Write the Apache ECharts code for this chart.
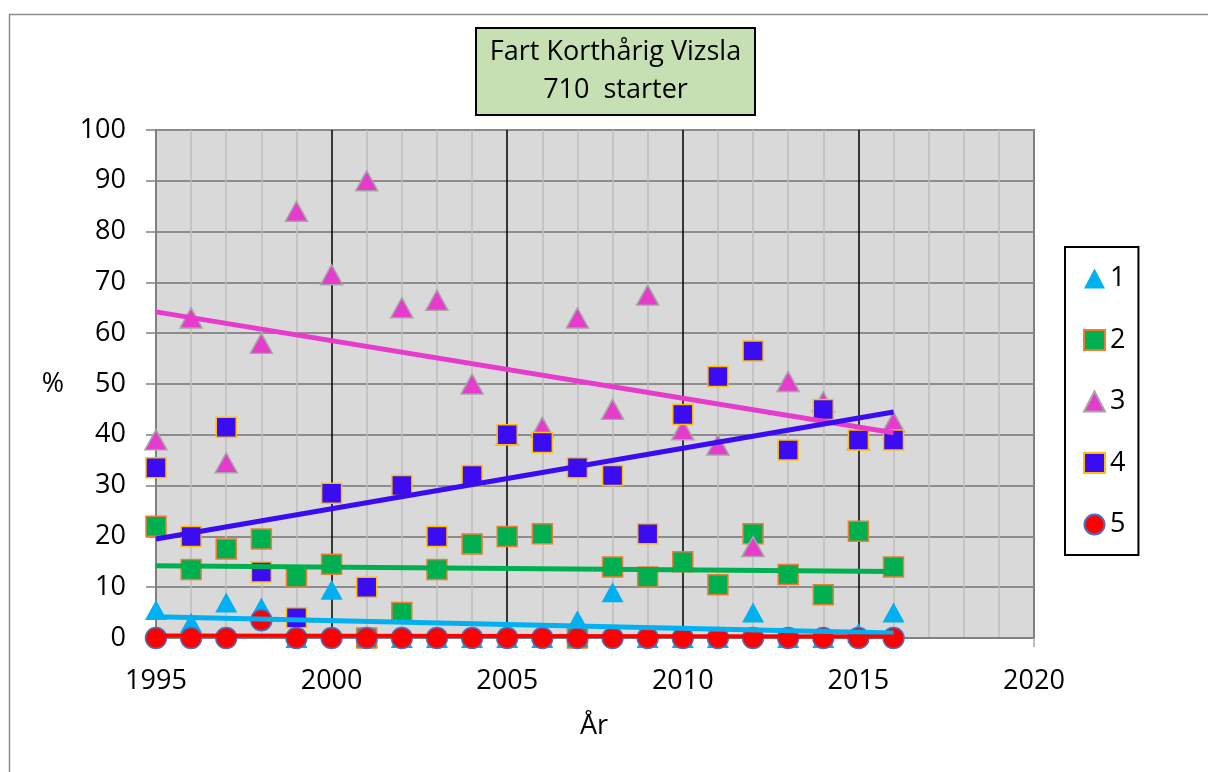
<!DOCTYPE html>
<html>
<head>
<meta charset="utf-8">
<script src="https://cdn.jsdelivr.net/npm/echarts@6/dist/echarts.min.js"></script>
<style>
    html, body { margin: 0; padding: 0; background: #fff; }
    #main { width: 1208px; height: 772px; }
</style>
</head>
<body>
<div id="main"></div>
<script>
    // år 1995 - 2016
    var years = [1995, 1996, 1997, 1998, 1999, 2000, 2001, 2002, 2003, 2004, 2005,
                 2006, 2007, 2008, 2009, 2010, 2011, 2012, 2013, 2014, 2015, 2016];

    // procent per premiegrad
    var pr1 = [5.5, 3, 7, 6, 0, 9.5, 0, 0, 0, 0, 0, 0, 3.5, 9, 0, 0, 0, 5, 0, 0, 1, 5];
    var pr2 = [22, 13.5, 17.5, 19.5, 12, 14.5, 0, 5, 13.5, 18.5, 20, 20.5, 0, 14, 12, 15, 10.5, 20.5, 12.5, 8.5, 21, 14];
    var pr3 = [39, 63, 34.5, 58, 84, 71.5, 90, 65, 66.5, 50, 40, 41.5, 63, 45, 67.5, 41, 38, 18, 50.5, 46.5, 39, 42.5];
    var pr4 = [33.5, 20, 41.5, 13, 4, 28.5, 10, 30, 20, 32, 40, 38.5, 33.5, 32, 20.5, 44, 51.5, 56.5, 37, 45, 39, 39];
    var pr5 = [0, 0, 0, 3.5, 0, 0, 0, 0, 0, 0, 0, 0, 0, 0, 0, 0, 0, 0, 0, 0, 0, 0];

    // trendlinjer: värde vid 1995 och 2016
    var trendYears = [1995, 2016];
    var trend1 = [4.2, 1.0];
    var trend2 = [14.2, 13.1];
    var trend3 = [64.2, 40.4];
    var trend4 = [19.5, 44.5];
    var trend5 = [0.5, 0.3];

    var names = ['1', '2', '3', '4', '5'];
    var xTicks = [1995, 2000, 2005, 2010, 2015, 2020];

    var font = 'Open Sans';

    function pairs(xs, ys) {
        var out = [];
        for (var i = 0; i < xs.length; i++) {
            out.push([xs[i], ys[i]]);
        }
        return out;
    }

    function scatter(name, data, symbol, size, color, border) {
        return {
            name: name,
            type: 'scatter',
            data: pairs(years, data),
            symbol: symbol,
            symbolSize: size,
            clip: false,
            itemStyle: {
                color: color,
                borderColor: border,
                borderWidth: border ? 1.5 : 0,
                opacity: 1
            },
            emphasis: { disabled: true }
        };
    }

    function trend(name, data, color, width) {
        return {
            name: name,
            type: 'line',
            data: pairs(trendYears, data),
            symbol: 'none',
            lineStyle: { color: color, width: width },
            emphasis: { disabled: true }
        };
    }

    var myChart = echarts.init(document.getElementById('main'));
    var option = {
        animation: false,
        backgroundColor: '#fff',
        textStyle: { fontFamily: font },
        grid: {
            left: 156,
            right: 174,
            top: 130,
            bottom: 134,
            show: true,
            backgroundColor: '#D9D9D9',
            borderColor: '#808080',
            borderWidth: 2
        },
        legend: {
            data: names,
            orient: 'vertical',
            left: 1065,
            top: 247,
            padding: [18, 13, 17, 18],
            itemGap: 34.5,
            itemWidth: 21,
            itemHeight: 20,
            backgroundColor: '#fff',
            borderColor: '#000',
            borderWidth: 2,
            selectedMode: false,
            textStyle: { fontFamily: font, fontSize: 27, color: '#000' }
        },
        xAxis: {
            type: 'value',
            min: 1995,
            max: 2020,
            interval: 5,
            axisLine: { show: true, onZero: false, lineStyle: { color: '#808080', width: 2 } },
            axisTick: { show: true, length: 9, lineStyle: { color: '#A6A6A6', width: 1.5 } },
            axisLabel: {
                margin: 30,
                fontFamily: font,
                fontSize: 27,
                color: '#000',
                formatter: function (v) { return xTicks.indexOf(v) > -1 ? String(v) : ''; }
            },
            splitLine: { show: true, showMinLine: false, showMaxLine: false, lineStyle: { color: '#000', width: 1.5 } },
            minorTick: { show: false, splitNumber: 5 },
            minorSplitLine: { show: true, lineStyle: { color: '#BDBDBD', width: 1.5 } }
        },
        yAxis: {
            type: 'value',
            min: 0,
            max: 100,
            interval: 10,
            axisLine: { show: true, lineStyle: { color: '#808080', width: 2 } },
            axisTick: { show: true, length: 10, lineStyle: { color: '#808080', width: 1.5 } },
            axisLabel: { margin: 30, fontFamily: font, fontSize: 27, color: '#000' },
            splitLine: { show: true, lineStyle: { color: '#8C8C8C', width: 2 } }
        },
        graphic: [
            {
                type: 'rect',
                shape: { x: 9.5, y: 14.5, width: 1300, height: 800 },
                style: { fill: 'none', stroke: '#8C8C8C', lineWidth: 1.5 },
                silent: true,
                z: -10
            },
            {
                type: 'rect',
                shape: { x: 476, y: 28, width: 279, height: 87 },
                style: { fill: '#C6E0B4', stroke: '#000', lineWidth: 2 },
                z: 10
            },
            {
                type: 'text',
                x: 615.5,
                y: 52,
                style: { text: 'Fart Korthårig Vizsla', font: '27px "Open Sans"', fill: '#000', align: 'center', verticalAlign: 'middle' },
                z: 11
            },
            {
                type: 'text',
                x: 615.5,
                y: 90,
                style: { text: '710  starter', font: '27px "Open Sans"', fill: '#000', align: 'center', verticalAlign: 'middle' },
                z: 11
            },
            {
                type: 'text',
                x: 53,
                y: 384,
                style: { text: '%', font: '27px "Open Sans"', fill: '#000', align: 'center', verticalAlign: 'middle' }
            },
            {
                type: 'text',
                x: 594,
                y: 726,
                style: { text: 'År', font: '27px "Open Sans"', fill: '#000', align: 'center', verticalAlign: 'middle' }
            }
        ],
        series: [
            scatter('1', pr1, 'triangle', [22, 20], '#00B0F0', null),
            trend('t1', trend1, '#00B0F0', 5),
            scatter('2', pr2, 'rect', 20, '#00B050', '#ED7D31'),
            trend('t2', trend2, '#00B050', 5),
            scatter('3', pr3, 'triangle', [22, 20], '#E63BCC', '#A5A5A5'),
            trend('t3', trend3, '#E63BCC', 5),
            scatter('4', pr4, 'rect', 20, '#3B0BF2', '#FFC000'),
            trend('t4', trend4, '#3B0BF2', 5),
            scatter('5', pr5, 'circle', 21, '#FF0000', '#4472C4'),
            trend('t5', trend5, '#FF0000', 4)
        ]
    };
    myChart.setOption(option);
</script>
</body>
</html>
